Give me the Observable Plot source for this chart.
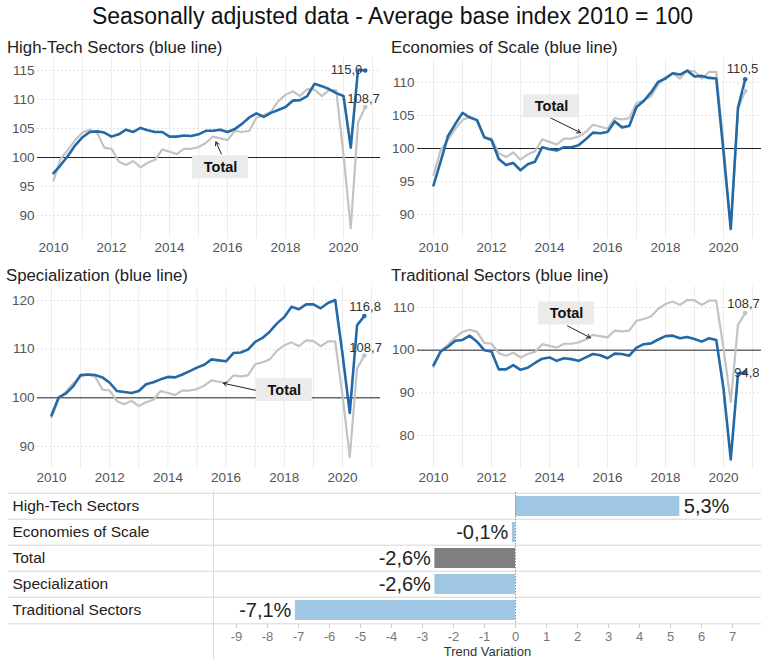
<!DOCTYPE html>
<html>
<head>
<meta charset="utf-8">
<script src="https://cdn.jsdelivr.net/npm/d3@7"></script>
<script src="https://cdn.jsdelivr.net/npm/@observablehq/plot@0.6"></script>
<style>
  body { margin: 0; background: #fff; }
  #root { position: relative; width: 761px; height: 660px; font-family: "Liberation Sans", Arial, sans-serif; color: #111; overflow: hidden; }
  .abs { position: absolute; }
  .title { top: 3px; left: 12px; width: 761px; text-align: center; font-size: 23px; }
  .ptitle { font-size: 16.8px; color: #222; white-space: nowrap; }
  #barLeft { border-right: 1px solid #dcdcdc; }
  .xlab { font-size: 13px; color: #333; text-align: center; }
</style>
</head>
<body>
<div id="root">
  <div class="abs title">Seasonally adjusted data - Average base index 2010 = 100</div>
  <div class="abs ptitle" style="left:7px;top:38px">High-Tech Sectors (blue line)</div>
  <div class="abs ptitle" style="left:391px;top:38px">Economies of Scale (blue line)</div>
  <div class="abs ptitle" style="left:6px;top:266px">Specialization (blue line)</div>
  <div class="abs ptitle" style="left:391px;top:266px">Traditional Sectors (blue line)</div>
  <div id="p1" class="abs" style="left:0;top:55px"></div>
  <div id="p2" class="abs" style="left:380px;top:55px"></div>
  <div id="p3" class="abs" style="left:0;top:283px"></div>
  <div id="p4" class="abs" style="left:380px;top:283px"></div>
  <div id="barLeft" class="abs" style="left:0;top:490px;width:213px;height:170px"></div>
  <div id="barRight" class="abs" style="left:214px;top:490px"></div>
  <div class="abs xlab" style="left:214px;top:644px;width:547px">Trend Variation</div>
</div>
<script>
// ---------- data ----------
const startYear = 2010;
const total = [96.0, 99.8, 101.3, 103.0, 104.3, 104.8, 104.3, 101.7, 101.5, 99.3, 98.7, 99.4, 98.3, 99.1, 99.6, 101.4, 101.0, 100.6, 101.5, 101.5, 101.8, 102.5, 103.6, 103.3, 103.0, 104.6, 104.4, 104.6, 106.9, 107.3, 107.9, 109.7, 110.8, 111.4, 110.6, 111.8, 111.7, 110.6, 111.6, 111.6, 100.5, 87.8, 106.0, 108.7];
const highTech = [97.3, 98.7, 100.3, 102.1, 103.5, 104.4, 104.5, 104.3, 103.6, 104.0, 104.8, 104.4, 105.1, 104.7, 104.4, 104.4, 103.6, 103.6, 103.8, 103.7, 104.0, 104.6, 104.6, 104.8, 104.4, 104.9, 105.8, 106.9, 107.6, 107.0, 107.7, 108.2, 108.7, 109.8, 109.9, 110.6, 112.7, 112.3, 111.8, 111.1, 110.6, 101.7, 115.1, 115.0];
const econScale = [94.4, 98.1, 101.9, 103.7, 105.4, 104.7, 104.3, 101.7, 101.3, 98.4, 97.5, 97.8, 96.7, 97.6, 98.0, 100.2, 99.9, 99.7, 100.2, 100.2, 100.5, 101.4, 102.4, 102.3, 102.5, 104.1, 103.2, 103.4, 106.3, 107.2, 108.5, 110.1, 110.6, 111.4, 111.2, 111.8, 110.9, 111.0, 110.7, 110.6, 99.5, 87.8, 106.2, 110.5];
const specialization = [96.4, 100.1, 100.9, 102.4, 104.7, 104.8, 104.7, 104.2, 103.1, 101.4, 101.2, 101.0, 101.4, 102.8, 103.2, 103.8, 104.3, 104.2, 104.8, 105.5, 106.2, 106.8, 107.9, 107.7, 107.5, 109.2, 109.3, 109.9, 111.5, 112.3, 113.6, 115.3, 116.6, 118.7, 118.2, 119.2, 119.2, 118.4, 119.5, 120.1, 109.0, 96.9, 114.9, 116.8];
const traditional = [96.5, 99.7, 100.8, 102.2, 102.4, 103.4, 102.0, 100.0, 99.7, 95.5, 95.5, 96.5, 95.4, 95.9, 97.0, 98.0, 98.3, 97.5, 98.1, 97.9, 97.5, 98.3, 99.1, 98.8, 98.1, 99.2, 99.1, 98.7, 100.6, 101.4, 101.6, 102.5, 103.3, 103.4, 102.8, 103.1, 102.6, 102.0, 102.8, 102.4, 91.0, 74.4, 94.5, 94.8];
const xTickYears = [2010, 2012, 2014, 2016, 2018, 2020];
const gridYears = [2010, 2011, 2012, 2013, 2014, 2015, 2016, 2017, 2018, 2019, 2020, 2021];
const barCats = ["High-Tech Sectors", "Economies of Scale", "Total", "Specialization", "Traditional Sectors"];
const barValues = [5.3, -0.1, -2.6, -2.6, -7.1];
const barTicks = [-9, -8, -7, -6, -5, -4, -3, -2, -1, 0, 1, 2, 3, 4, 5, 6, 7];
const annotationLabel = "Total";

// ---------- style ----------
const FONT = '"Liberation Sans", Arial, sans-serif';
const NARROW = '"Liberation Sans Narrow", "Liberation Sans", Arial, sans-serif';
const BLUE = "#2369a8";
const GRAY = "#c3c3c3";
const fmt1 = v => v.toFixed(1).replace(".", ",");

function panel(el, cfg) {
  const data = total.map((t, i) => ({t: startYear + i / 4, v: cfg.series[i], tot: t}));
  const last = data[data.length - 1];
  const marks = [
    Plot.gridX(gridYears, {stroke: "#ececec", strokeOpacity: 1}),
    Plot.gridY(cfg.yTicks, {stroke: "#e2e2e2", strokeOpacity: 1, strokeDasharray: "2,2"}),
    Plot.axisX(xTickYears, {tickSize: 0, tickPadding: 4, tickFormat: d => String(d), label: null, fill: "#555"}),
    Plot.axisY(cfg.yTicks, {tickSize: 0, tickPadding: 3, label: null, fill: "#555"}),
    Plot.ruleY([100], {stroke: "#222", strokeWidth: 1}),
    Plot.line(data, {x: "t", y: "tot", stroke: GRAY, strokeWidth: 2.2}),
    Plot.line(data, {x: "t", y: "v", stroke: BLUE, strokeWidth: 2.6}),
    Plot.dot([last], {x: "t", y: "tot", r: 2.3, fill: GRAY}),
    Plot.dot([last], {x: "t", y: "v", r: 2.3, fill: BLUE})
  ];
  for (const lab of cfg.labels) {
    marks.push(Plot.text([last], {x: "t", y: lab.key, text: d => fmt1(d[lab.key]),
      textAnchor: lab.anchor, dx: lab.dx, dy: lab.dy, fontSize: 13, fill: "#333"}));
  }
  const a = cfg.annot;
  marks.push(
    Plot.arrow([a], {x1: "ax1", y1: "ay1", x2: "ax2", y2: "ay2", stroke: "#222", strokeWidth: 1, headLength: 6}),
    Plot.rect([a], {x1: "x", x2: "x", y1: "y", y2: "y", fill: "#ebebeb",
      insetLeft: -28, insetRight: -28, insetTop: -11.5, insetBottom: -11.5}),
    Plot.text([a], {x: "x", y: "y", text: () => annotationLabel, fontWeight: "bold", fontSize: 14.5, fill: "#111"})
  );
  const p = Plot.plot({
    width: cfg.width, height: 205,
    marginTop: 3, marginBottom: cfg.marginBottom, marginLeft: 37, marginRight: 0,
    style: {fontFamily: FONT, fontSize: "13.5px", background: "transparent", overflow: "visible"},
    x: {domain: [2010, 2020], range: cfg.xRange, label: null},
    y: {domain: cfg.yDomain, range: cfg.yRange, label: null},
    marks
  });
  document.getElementById(el).appendChild(p);
}

panel("p1", {
  series: highTech, width: 380, marginBottom: 22,
  xRange: [53, 343], yDomain: [90, 115], yRange: [160, 15], yTicks: [90, 95, 100, 105, 110, 115],
  labels: [{key: "v", anchor: "end", dx: -3, dy: -1}, {key: "tot", anchor: "start", dx: -18, dy: -8}],
  annot: {x: 2015.76, y: 98.3, ax1: 2015.79, ay1: 100.6, ax2: 2015.6, ay2: 102.7}
});
panel("p2", {
  series: econScale, width: 381, marginBottom: 22,
  xRange: [53, 343], yDomain: [90, 110], yRange: [159, 27], yTicks: [90, 95, 100, 105, 110],
  labels: [{key: "v", anchor: "end", dx: 13, dy: -10}],
  annot: {x: 2014.07, y: 106.4, ax1: 2014.05, ay1: 104.6, ax2: 2015.07, ay2: 102.4}
});
panel("p3", {
  series: specialization, width: 380, marginBottom: 20,
  xRange: [51, 342], yDomain: [90, 120], yRange: [163, 17], yTicks: [90, 100, 110, 120],
  labels: [{key: "v", anchor: "start", dx: -15, dy: -9}, {key: "tot", anchor: "start", dx: -15, dy: -8}],
  annot: {x: 2018.0, y: 101.6, ax1: 2017.05, ay1: 101.5, ax2: 2015.9, ay2: 103.0}
});
panel("p4", {
  series: traditional, width: 381, marginBottom: 20,
  xRange: [53, 343], yDomain: [80, 110], yRange: [152, 24], yTicks: [80, 90, 100, 110],
  labels: [{key: "tot", anchor: "start", dx: -18, dy: -9}, {key: "v", anchor: "start", dx: -11, dy: 0}],
  annot: {x: 2014.59, y: 108.6, ax1: 2014.62, ay1: 105.7, ax2: 2015.41, ay2: 102.9}
});

// ---------- bar chart ----------
const barData = barCats.map((c, i) => ({c, v: barValues[i]}));
const bandRange = [2, 134];
const bw = (bandRange[1] - bandRange[0]) / barCats.length;
const sepMarks = () => [
  Plot.ruleY(barCats, {y: d => d, dy: -bw / 2, stroke: "#e3e3e3", strokeWidth: 1.5}),
  Plot.ruleY(barCats.slice(-1), {y: d => d, dy: bw / 2, stroke: "#e3e3e3", strokeWidth: 1.5})
];
const left = Plot.plot({
  width: 213, height: 170, marginLeft: 8, marginRight: 0, marginTop: 0, marginBottom: 0,
  style: {fontFamily: FONT, background: "transparent"},
  y: {type: "band", domain: barCats, range: bandRange, padding: 0, axis: null},
  marks: [
    ...sepMarks(),
    Plot.text(barCats, {y: d => d, frameAnchor: "left", textAnchor: "start", dx: 4, fontSize: 15.5, fill: "#222"})
  ]
});
document.getElementById("barLeft").appendChild(left);

const right = Plot.plot({
  width: 547, height: 170, marginLeft: 0, marginRight: 0, marginTop: 2, marginBottom: 36,
  style: {fontFamily: FONT, background: "transparent", overflow: "visible"},
  x: {domain: [-9, 7], range: [22, 518], label: null},
  y: {type: "band", domain: barCats, range: bandRange, padding: 0, axis: null},
  color: {type: "identity"},
  marks: [
    ...sepMarks(),
    Plot.barX(barData, {x: "v", y: "c", fill: d => d.c === "Total" ? "#7f7f7f" : "#9fc6e3", insetTop: 3, insetBottom: 3}),
    Plot.ruleX([0], {stroke: "#7f93a8", strokeDasharray: "1.5,1.5", strokeWidth: 1}),
    Plot.text(barData.filter(d => d.v >= 0), {x: "v", y: "c", text: d => fmt1(d.v) + "%", textAnchor: "start", dx: 4, fontSize: 20, fill: "#222"}),
    Plot.text(barData.filter(d => d.v < 0), {x: "v", y: "c", text: d => fmt1(d.v) + "%", textAnchor: "end", dx: -4, fontSize: 20, fill: "#222"}),
    Plot.axisX(barTicks, {tickSize: 4, tickPadding: 3, tickFormat: d => String(d), label: null, fill: "#777", stroke: "#cfcfcf", fontSize: 13, fontFamily: NARROW})
  ]
});
document.getElementById("barRight").appendChild(right);
</script>
</body>
</html>
